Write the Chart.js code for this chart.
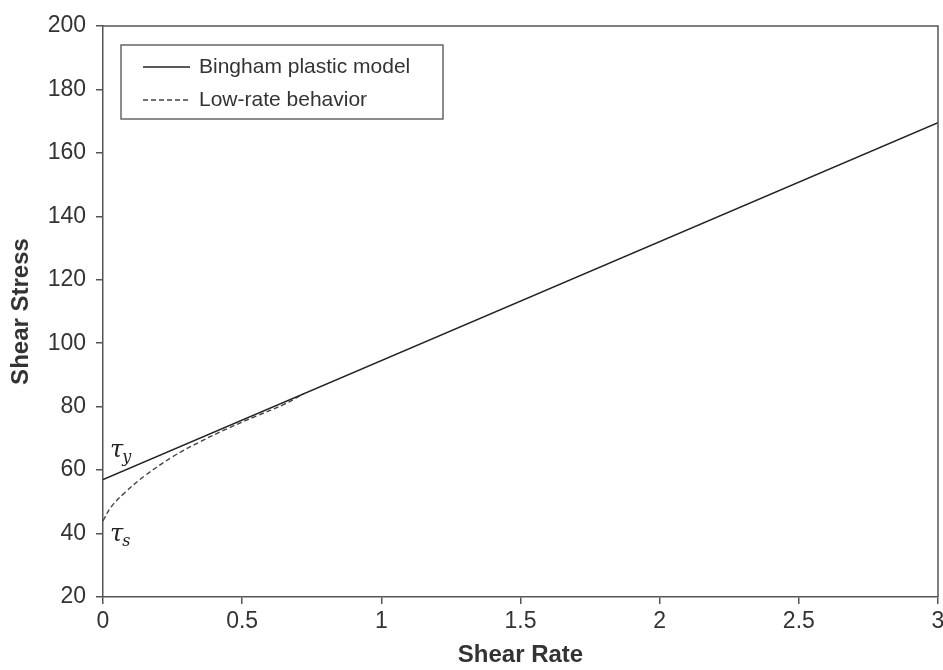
<!DOCTYPE html>
<html>
<head>
<meta charset="utf-8">
<script src="https://cdn.jsdelivr.net/npm/chart.js@4/dist/chart.umd.min.js"></script>
<style>
  html, body { margin: 0; padding: 0; background: #fff; }
  #wrap { width: 943px; height: 670px; }
</style>
</head>
<body>
<div id="wrap"><canvas id="chart" width="943" height="670"></canvas></div>
<script>
// Bingham plastic model (straight line)
const bingX = [0, 3];
const bingY = [57, 169.5];

// low-rate behaviour
const lowX = [0, 0.03, 0.08, 0.15, 0.25, 0.35, 0.45, 0.55, 0.65, 0.72];
const lowY = [44, 48.5, 53, 58.2, 64.2, 69, 73.2, 77, 80.7, 84];

const xTicks = [0, 0.5, 1, 1.5, 2, 2.5, 3];
const yTicks = [20, 40, 60, 80, 100, 120, 140, 160, 180, 200];

const seriesNames = ["Bingham plastic model", "Low-rate behavior"];

const axisColor = "#555";
const textColor = "#333";

function toPoints(xs, ys) {
  return xs.map((x, i) => ({ x: x, y: ys[i] }));
}

// box around plot, legend and the tau labels
const extras = {
  id: "extras",
  afterDraw(chart) {
    const ctx = chart.ctx;
    const a = chart.chartArea;
    const xs = chart.scales.x, ys = chart.scales.y;
    ctx.save();

    // frame top/right
    ctx.strokeStyle = axisColor;
    ctx.lineWidth = 1.5;
    ctx.beginPath();
    ctx.moveTo(a.left, a.top);
    ctx.lineTo(a.right, a.top);
    ctx.lineTo(a.right, a.bottom);
    ctx.stroke();

    // legend
    const lx = a.left + 18, ly = a.top + 19;
    ctx.strokeStyle = "#666";
    ctx.lineWidth = 1.5;
    ctx.strokeRect(lx, ly, 322, 74);
    const dsets = chart.data.datasets;
    ctx.font = "21px 'Liberation Sans', Arial, sans-serif";
    ctx.textBaseline = "middle";
    ctx.fillStyle = textColor;
    dsets.forEach((d, i) => {
      const yy = ly + 22 + i * 33;
      ctx.strokeStyle = d.borderColor;
      ctx.lineWidth = 1.3;
      ctx.setLineDash(d.borderDash || []);
      ctx.beginPath();
      ctx.moveTo(lx + 22, yy);
      ctx.lineTo(lx + 69, yy);
      ctx.stroke();
      ctx.setLineDash([]);
      ctx.fillText(d.label, lx + 78, yy);
    });

    // tau labels
    const drawTau = (sub, xv, yv) => {
      const px = xs.getPixelForValue(xv), py = ys.getPixelForValue(yv);
      ctx.fillStyle = "#222";
      ctx.textBaseline = "alphabetic";
      ctx.font = "italic 24px 'DejaVu Serif', 'Liberation Serif', serif";
      ctx.fillText("\u03C4", px, py);
      const w = ctx.measureText("\u03C4").width;
      ctx.font = "italic 16px 'DejaVu Serif', 'Liberation Serif', serif";
      ctx.fillText(sub, px + w - 1, py + 5);
    };
    drawTau("y", 0.025, 64);
    drawTau("s", 0.025, 37.5);

    ctx.restore();
  }
};

new Chart(document.getElementById("chart"), {
  type: "line",
  data: {
    datasets: [
      {
        label: seriesNames[0],
        data: toPoints(bingX, bingY),
        borderColor: "#222",
        borderWidth: 1.6,
        pointRadius: 0,
        fill: false,
      },
      {
        label: seriesNames[1],
        data: toPoints(lowX, lowY),
        borderColor: "#444",
        borderWidth: 1.4,
        borderDash: [5, 3],
        pointRadius: 0,
        tension: 0.4,
        fill: false,
      },
    ],
  },
  options: {
    responsive: false,
    animation: false,
    layout: { padding: { left: 0, right: 5, top: 26, bottom: 0 } },
    plugins: {
      legend: { display: false },
      tooltip: { enabled: false },
    },
    scales: {
      x: {
        type: "linear",
        min: 0,
        max: 3,
        afterBuildTicks: (s) => { s.ticks = xTicks.map(v => ({ value: v })); },
        afterFit: (s) => { s.height = 73; s.paddingRight = 0; s.paddingLeft = 0; },
        ticks: {
          color: textColor,
          font: { size: 23, family: "'Liberation Sans', Arial, sans-serif" },
          padding: 4,
          maxRotation: 0,
          callback: (v) => String(v),
        },
        grid: { drawOnChartArea: false, drawTicks: true, tickLength: 7, color: axisColor, lineWidth: 1.5 },
        border: { display: true, color: axisColor, width: 1.5 },
        title: {
          display: true,
          text: "Shear Rate",
          color: textColor,
          font: { size: 24, weight: "bold", family: "'Liberation Sans', Arial, sans-serif" },
          padding: { top: 7, bottom: 0 },
        },
      },
      y: {
        type: "linear",
        min: 20,
        max: 200,
        afterBuildTicks: (s) => { s.ticks = yTicks.map(v => ({ value: v })); },
        afterFit: (s) => { s.width = 103; },
        ticks: {
          color: textColor,
          font: { size: 23, family: "'Liberation Sans', Arial, sans-serif" },
          padding: 10,
          callback: (v) => String(v),
        },
        grid: { drawOnChartArea: false, drawTicks: true, tickLength: 7, color: axisColor, lineWidth: 1.5 },
        border: { display: true, color: axisColor, width: 1.5 },
        title: {
          display: true,
          text: "Shear Stress",
          color: textColor,
          font: { size: 24, weight: "bold", family: "'Liberation Sans', Arial, sans-serif" },
          padding: { top: 7, bottom: 0 },
        },
      },
    },
  },
  plugins: [extras],
});
</script>
</body>
</html>
